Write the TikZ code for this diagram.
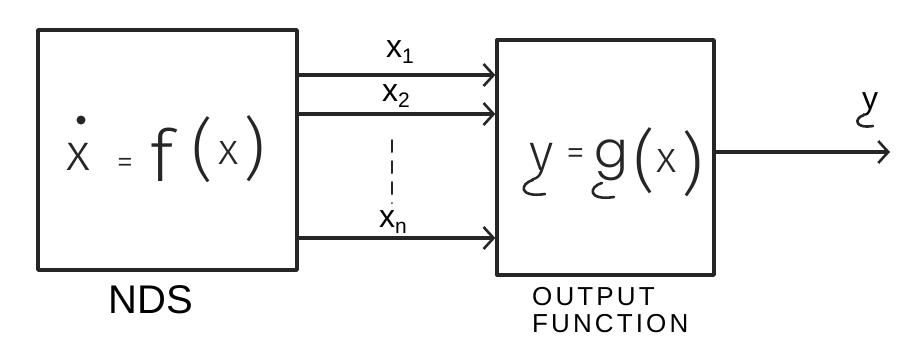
\documentclass[tikz,border=0pt]{standalone}
\usepackage{fontspec}
\setmainfont{Liberation Sans}
\newfontfamily\hand{Fira Sans Light}
\newfontfamily\handg{Poppins Light}
\usetikzlibrary{arrows.meta,calc}
\begin{document}
\begin{tikzpicture}[x=1pt,y=-1pt,
  ink/.style={line width=3.4pt,line cap=round,line join=round,black!85},
  box/.style={draw,ink,inner sep=0pt},
  arr/.style={ink,-{Straight Barb[length=10pt,width=22pt,line width=2.6pt]}},
  lbl/.style={inner sep=0pt,font=\fontsize{32}{32}\selectfont},
  sym/.style={inner sep=0pt,text=black!85,font=\hand\fontsize{#1}{#1}\selectfont},
  hook/.style={ink,line width=2.6pt},
  caps/.style={inner sep=0pt,align=left,font=\fontsize{26}{27}\selectfont\addfontfeatures{LetterSpace=12}}]
\useasboundingbox (0,0) rectangle (909,357);
\node[box,minimum width=259pt,minimum height=240pt] (L) at (167.5,150) {};
\node[box,minimum width=217pt,minimum height=235pt] (R) at (605.5,157.5) {};
% formula  x-dot = f(x)
\node[sym=52] (fx) at (78,157) {x};
\fill[black!85] (81,120) coordinate (dotc) circle (4.5pt);
\node[sym=34] (feq) at (125,166) {=};
\node[sym=72] (ff) at (162,155) {f};
\node[sym=68] (flp) at (203,150) {(};
\node[sym=44] (fx2) at (229,153) {x};
\node[sym=68] (frp) at (255,149) {)};
% formula  y = g(x)
\node[sym=52] (gy) at (542,162) {y};
\node[sym=38] (geq) at (576,157) {=};
\node[inner sep=0pt,text=black!85,font=\handg\fontsize{50}{50}\selectfont] (gg) at (611,160) {g};
\node[sym=68] (glp) at (645,161) {(};
\node[sym=44] (gx) at (667,161) {x};
\node[sym=68] (grp) at (693,164) {)};
% connectors
\coordinate (a1) at (0,75);
\coordinate (a2) at (0,114);
\coordinate (an) at (0,238);
\coordinate (ao) at (0,152);
\coordinate (oend) at (890,152);
\draw[arr] (L.east |- a1) -- (R.west |- a1);
\draw[arr] (L.east |- a2) -- (R.west |- a2);
\draw[arr] (L.east |- an) -- (R.west |- an);
\draw[arr] (R.east |- ao) -- (oend);
\node[lbl] (x1) at (400,52) {x\raisebox{-0.35ex}{\fontsize{21}{21}\selectfont 1}};
\node[lbl] (x2) at (396,96) {x\raisebox{-0.35ex}{\fontsize{21}{21}\selectfont 2}};
\node[lbl] (xn) at (393,222) {x\raisebox{-0.35ex}{\fontsize{21}{21}\selectfont n}};
\coordinate (d1) at (392,140);
\coordinate (d2) at (392,203);
\draw[ink,line width=2pt,dash pattern=on 12pt off 9pt] (d1) -- (d2);
\node[lbl] (yo) at (870,104) {y};
% vector under-marks (hooks)
\coordinate (h1) at (533,180);
\coordinate (h2) at (602,183);
\coordinate (h3) at (864,115);
\draw[hook] (h1) .. controls ($(h1)+(-14,4)$) and ($(h1)+(-14,18)$) .. ($(h1)+(12,14)$);
\draw[hook] (h2) .. controls ($(h2)+(-14,4)$) and ($(h2)+(-14,18)$) .. ($(h2)+(12,14)$);
\draw[hook] (h3) .. controls ($(h3)+(-10,3)$) and ($(h3)+(-10,14)$) .. ($(h3)+(9,11)$);
\node[inner sep=0pt,font=\fontsize{40}{40}\selectfont] (nds) at (151,300) {NDS};
\node[caps,anchor=north west] (of) at (532,287) {OUTPUT\\FUNCTION};
\end{tikzpicture}
\end{document}
